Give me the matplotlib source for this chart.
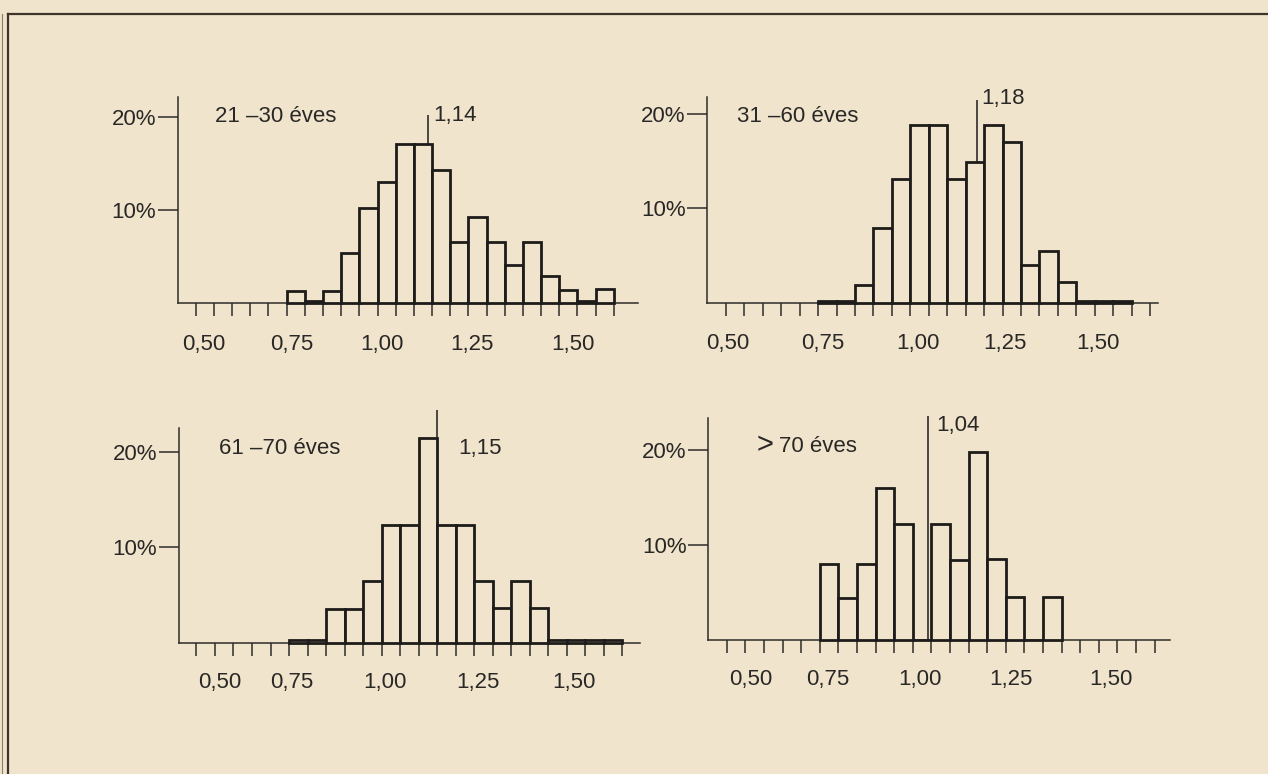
import numpy as np
import matplotlib
matplotlib.use("Agg")
import matplotlib.pyplot as plt
from matplotlib.lines import Line2D
from matplotlib.transforms import ScaledTranslation

# ---------------- data ----------------
group_labels = ["21 \u201330 éves", "31 \u201360 éves", "61 \u201370 éves", "> 70 éves"]
medians = [1.14, 1.18, 1.15, 1.04]
median_labels = ["1,14", "1,18", "1,15", "1,04"]

bin_width = 0.05
bin_start = 0.75
# percentage of persons per bin (bins start at 0.75, width 0.05)
pct_21_30 = [1.3, 0.2, 1.3, 5.4, 10.2, 13.0, 17.1, 17.1, 14.3, 6.6, 9.2, 6.6, 4.1, 6.6, 2.9, 1.4, 0.2, 1.5]
pct_31_60 = [0.2, 0.2, 1.9, 7.9, 13.1, 18.8, 18.8, 13.1, 14.9, 18.8, 17.0, 4.0, 5.5, 2.2, 0.2, 0.2, 0.2]
pct_61_70 = [0.3, 0.3, 3.6, 3.6, 6.5, 12.4, 12.4, 21.4, 12.4, 12.4, 6.5, 3.7, 6.5, 3.7, 0.3, 0.3, 0.3, 0.3]
pct_70_plus = [8.0, 4.4, 8.0, 16.0, 12.2, 0.0, 12.2, 8.4, 19.8, 8.5, 4.5, 0.0, 4.5]
series = [pct_21_30, pct_31_60, pct_61_70, pct_70_plus]

xtick_values = [round(0.50 + 0.05 * i, 2) for i in range(24)]
xlabel_values = [0.50, 0.75, 1.00, 1.25, 1.50]
xlabel_texts = ["0,50", "0,75", "1,00", "1,25", "1,50"]
ytick_values = [10, 20]
ytick_texts = ["10%", "20%"]

# ---------------- layout (pixels, y from top) ----------------
W, H = 1268, 774
layout = [
    dict(x0=177.5, x050=195.7, xu=363.6, xr=638, yb=302.7, yu=9.27, ytop=96.7, med_top=115,
         glab=(215, 116.7), mlab=(433, 115), shifts=[7.6, 5.5, 4.9, 3.5, 14], pad=13),
    dict(x0=707.3, x050=726.0, xu=368.7, xr=1158.3, yb=302.7, yu=9.43, ytop=97, med_top=100,
         glab=(736.7, 116), mlab=(981.7, 98.3), shifts=[2, 5, 8, 2.5, 3.6], pad=12),
    dict(x0=178.5, x050=196.4, xu=370.5, xr=640, yb=643.3, yu=9.58, ytop=428.3, med_top=410,
         glab=(218.8, 448.3), mlab=(458, 448.3), shifts=[23, 3, 3, 3.5, 6.6], pad=11),
    dict(x0=708.3, x050=726.7, xu=372.0, xr=1170, yb=640, yu=9.5, ytop=418.3, med_top=416,
         glab=(756.7, 446.7), mlab=(936.7, 425), shifts=[24, 8, 7, 5, 12], pad=11.5),
]

BG = "#f0e4cc"
INK = "#1e1c1a"
TXT = "#2a2826"
FONT = ["Liberation Sans", "DejaVu Sans"]
FS = 16

plt.rcParams["font.family"] = FONT

fig = plt.figure(figsize=(W / 100, H / 100), dpi=100)
fig.patch.set_facecolor(BG)

# frame lines of the printed page
fig.add_artist(Line2D([8 / W, 1.0], [1 - 14 / H, 1 - 14 / H], color="#3d3529", lw=1.6))
fig.add_artist(Line2D([8 / W, 8 / W], [0, 1 - 14 / H], color="#3d3529", lw=1.6))
fig.add_artist(Line2D([2 / W, 2 / W], [0, 1 - 14 / H], color="#8a7d68", lw=0.8))

YMAX = 26
for i, (vals, L) in enumerate(zip(series, layout)):
    x0, x050, xu, xr, yb, yu = L["x0"], L["x050"], L["xu"], L["xr"], L["yb"], L["yu"]
    top_px = yb - YMAX * yu
    ax = fig.add_axes([x0 / W, 1 - yb / H, (xr - x0) / W, (yb - top_px) / H])
    ax.set_facecolor("none")
    ax.set_xlim(0.5 - (x050 - x0) / xu, 0.5 + (xr - x050) / xu)
    ax.set_ylim(0, YMAX)

    lefts = [round(bin_start + bin_width * k, 2) for k in range(len(vals))]
    ax.bar(lefts, vals, width=bin_width, align="edge", facecolor=BG,
           edgecolor=INK, linewidth=2.0, zorder=3, clip_on=False)
    ax.vlines(medians[i], 0, (yb - L["med_top"]) / yu, color=INK, lw=1.1,
              zorder=2, clip_on=False)

    for s in ["top", "right"]:
        ax.spines[s].set_visible(False)
    for s in ["left", "bottom"]:
        ax.spines[s].set_color("#2e2b28")
        ax.spines[s].set_linewidth(1.1)
    ax.spines["left"].set_bounds(0, (yb - L["ytop"]) / yu)

    labels = []
    for v in xtick_values:
        match = [abs(v - lv) < 1e-9 for lv in xlabel_values]
        labels.append(xlabel_texts[match.index(True)] if any(match) else "")
    ax.set_xticks(xtick_values)
    ax.set_xticklabels(labels)
    ax.tick_params(axis="x", direction="out", length=9.5, width=1.1, color="#2e2b28",
                   pad=L["pad"], labelsize=FS, labelcolor=TXT)
    k = 0
    for lab in ax.get_xticklabels():
        if lab.get_text():
            dx = L["shifts"][k] / 100.0
            lab.set_transform(lab.get_transform() + ScaledTranslation(dx, 0, fig.dpi_scale_trans))
            k += 1

    ax.set_yticks(ytick_values)
    ax.set_yticklabels(ytick_texts)
    ax.tick_params(axis="y", direction="out", length=14.5, width=1.1, color="#2e2b28",
                   pad=1, labelsize=FS, labelcolor=TXT)

    gx, gy = L["glab"]
    if group_labels[i].startswith(">"):
        fig.text(gx / W, 1 - (gy - 1) / H, ">", fontsize=21, color=TXT, va="center",
                 ha="left", family=FONT)
        fig.text((gx + 22) / W, 1 - gy / H, group_labels[i][2:], fontsize=FS, color=TXT,
                 va="center", ha="left", family=FONT)
    else:
        fig.text(gx / W, 1 - gy / H, group_labels[i], fontsize=FS, color=TXT,
                 va="center", ha="left", family=FONT)
    mx, my = L["mlab"]
    fig.text(mx / W, 1 - my / H, median_labels[i], fontsize=FS, color=TXT,
             va="center", ha="left", family=FONT)

fig.savefig("out.png", dpi=100, facecolor=BG)
